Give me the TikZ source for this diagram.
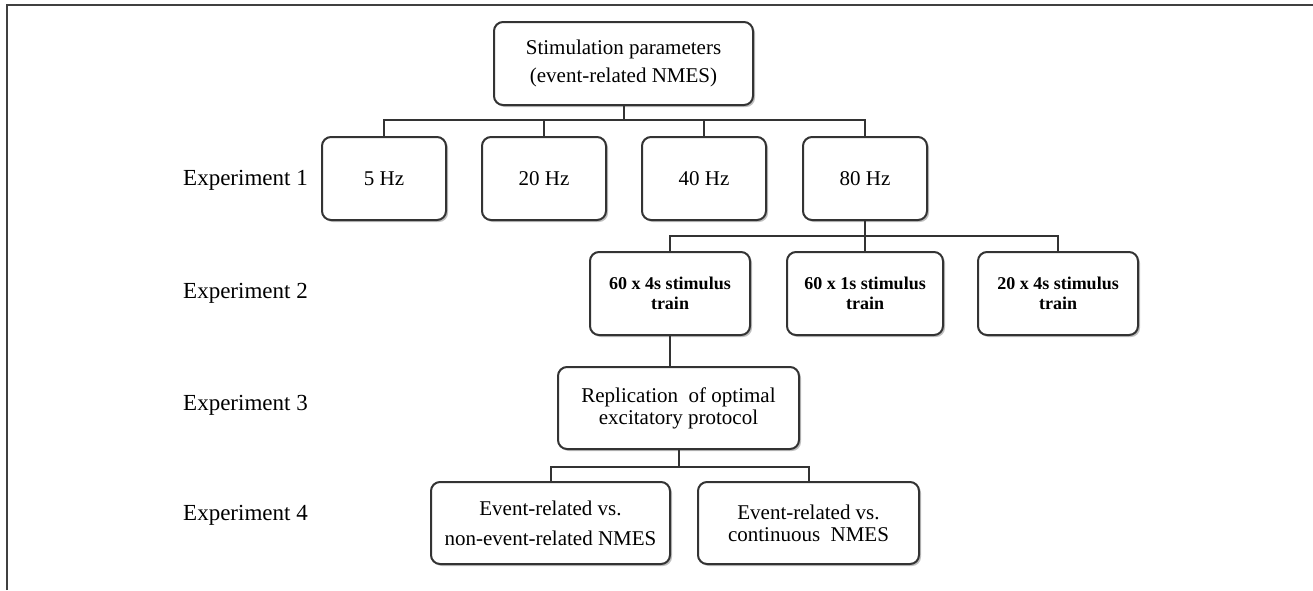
\documentclass[tikz,border=0pt]{standalone}
\usepackage{fontspec}
\setmainfont{Liberation Serif}
\usetikzlibrary{shadows}
\begin{document}
\begin{tikzpicture}[x=1pt,y=-1pt,
  line/.style={draw=black!80, line width=2pt},
  box/.style={line, rounded corners=9pt, fill=white, align=center, inner sep=0pt,
    drop shadow={shadow xshift=2pt, shadow yshift=-2pt, opacity=0.25, fill=black}},
  reg/.style={font=\fontsize{21}{28}\selectfont},
  bld/.style={font=\bfseries\fontsize{18}{20}\selectfont},
  lbl/.style={anchor=west, inner sep=0pt, font=\fontsize{23}{26}\selectfont}]
\useasboundingbox (0,0) rectangle (1313,590);
\draw[line width=1.6pt, black!75] (7,590) -- (7,5) -- (1313,5);
% top
\node[box, reg, minimum width=259pt, minimum height=83pt] (top) at (623.5,63.5)
  {Stimulation parameters\\(event-related NMES)};
% experiment 1
\node[box, reg, minimum width=124pt, minimum height=83pt] (f5) at (384,178.5) {5 Hz};
\node[box, reg, minimum width=124pt, minimum height=83pt] (f20) at (544,178.5) {20 Hz};
\node[box, reg, minimum width=124pt, minimum height=83pt] (f40) at (704,178.5) {40 Hz};
\node[box, reg, minimum width=124pt, minimum height=83pt] (f80) at (865,178.5) {80 Hz};
% experiment 2
\node[box, bld, minimum width=160pt, minimum height=83pt] (e2a) at (670,293.5) {60 x 4s stimulus\\train};
\node[box, bld, minimum width=156pt, minimum height=83pt] (e2b) at (865,293.5) {60 x 1s stimulus\\train};
\node[box, bld, minimum width=160pt, minimum height=83pt] (e2c) at (1058,293.5) {20 x 4s stimulus\\train};
% experiment 3
\node[box, font=\fontsize{21}{22}\selectfont, minimum width=241pt, minimum height=82pt] (e3) at (678.5,408)
  {Replication\ \ of optimal\\excitatory protocol};
% experiment 4
\node[box, font=\fontsize{21}{30}\selectfont, minimum width=239pt, minimum height=82pt] (e4a) at (550.5,523)
  {Event-related vs.\\non-event-related NMES};
\node[box, font=\fontsize{21}{22}\selectfont, minimum width=221pt, minimum height=82pt] (e4b) at (808.5,523)
  {Event-related vs.\\continuous\ \ NMES};
% labels
\node[lbl] (l1) at (183,180) {Experiment 1};
\node[lbl] (l2) at (183,293) {Experiment 2};
\node[lbl] (l3) at (183,405) {Experiment 3};
\node[lbl] (l4) at (183,515) {Experiment 4};
% connectors
\coordinate (b1) at (623.5,120);
\coordinate (b2) at (865,236);
\coordinate (b3) at (678.5,467);
\draw[line] (top.south) -- (b1);
\draw[line] (f5.north) |- (b1) -| (f80.north);
\draw[line] (f20.north) -- (f20.north |- b1);
\draw[line] (f40.north) -- (f40.north |- b1);
\draw[line] (f80.south) -- (b2);
\draw[line] (e2a.north) |- (b2) -| (e2c.north);
\draw[line] (e2b.north) -- (b2);
\draw[line] (e2a.south) -- (e2a.south |- e3.north);
\draw[line] (e3.south) -- (b3);
\draw[line] (e4a.north) |- (b3) -| (e4b.north);
\end{tikzpicture}
\end{document}
